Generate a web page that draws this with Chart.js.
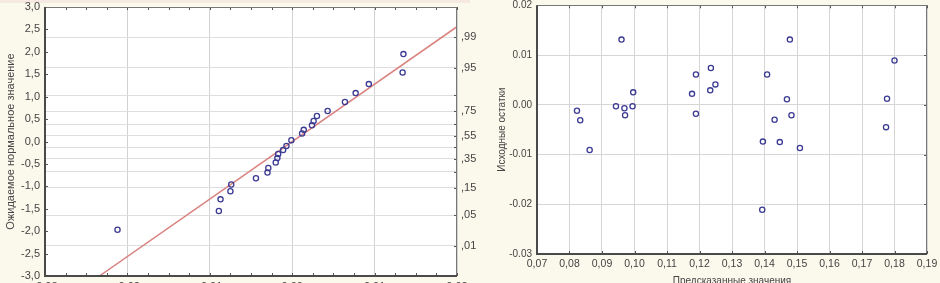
<!DOCTYPE html>
<html>
<head>
<meta charset="utf-8">
<script src="https://cdn.jsdelivr.net/npm/chart.js@4.4.1/dist/chart.umd.min.js"></script>
<style>
  html, body { margin: 0; padding: 0; width: 940px; height: 283px; overflow: hidden; background: #fbf8ec; }
  .box { position: absolute; top: 0; }
  #probBox { left: 0; width: 480px; height: 300px; }
  #residBox { left: 480px; width: 460px; height: 300px; }
  #topBand { position: absolute; left: 0; top: 0; width: 470px; height: 3px; background: #f6e9e1; }
</style>
</head>
<body>
<div id="topBand"></div>
<div class="box" id="probBox"><canvas id="probChart" width="480" height="300"></canvas></div>
<div class="box" id="residBox"><canvas id="residChart" width="460" height="300"></canvas></div>
<script>
// normal probability plot: residual vs expected normal value
const probResid = [-0.0212, -0.0089, -0.0087, -0.0075, -0.0074, -0.0044, -0.0030, -0.0029, -0.0020, -0.0018,
                   -0.0017, -0.0011, -0.0007, -0.0001, 0.0012, 0.0014, 0.0024, 0.0026, 0.0030, 0.0043,
                   0.0064, 0.0077, 0.0093, 0.0134, 0.0135];
const probExpected = [-1.97, -1.55, -1.29, -1.11, -0.96, -0.82, -0.69, -0.59, -0.47, -0.37,
                      -0.28, -0.19, -0.10, 0.03, 0.18, 0.26, 0.36, 0.46, 0.57, 0.68,
                      0.88, 1.08, 1.28, 1.54, 1.95];
const fitLineX = [-0.0234, 0.02];
const fitLineY = [-3.0, 2.56];
// right axis: probability levels
const probTickZ = [-2.326, -1.645, -1.036, -0.674, -0.385, -0.126, 0.126, 0.385, 0.674, 1.036, 1.645, 2.326];
const probTickLabels = [',01', ',05', ',15', '', ',35', '', ',55', '', ',75', '', ',95', ',99'];

// residuals vs predicted values
const predicted = [0.0823, 0.0833, 0.0862, 0.0943, 0.0960, 0.0969, 0.0971, 0.0994, 0.0996,
                   0.1177, 0.1189, 0.1189, 0.1233, 0.1235, 0.1249, 0.1393, 0.1395, 0.1408,
                   0.1431, 0.1447, 0.1469, 0.1478, 0.1483, 0.1509, 0.1774, 0.1777, 0.1800];
const residuals = [-0.0012, -0.0031, -0.0091, -0.0003, 0.0131, -0.0007, -0.0021, -0.0003, 0.0025,
                   0.0022, 0.0061, -0.0018, 0.0029, 0.0074, 0.0041, -0.0211, -0.0074, 0.0061,
                   -0.0030, -0.0075, 0.0011, 0.0131, -0.0021, -0.0087, -0.0045, 0.0012, 0.0089];

Chart.defaults.font.family = "'Liberation Sans', Arial, sans-serif";
Chart.defaults.font.size = 11;
Chart.defaults.color = '#444';

const markColor = '#3b3b94';
const lineColor = '#d9827f';

function comma(v, digits) {
  if (Math.abs(v) < 1e-9) v = 0;
  return v.toFixed(digits).replace('.', ',');
}

function stepValues(min, max, step) {
  const out = [];
  for (let k = 0; ; k++) {
    const v = min + k * step;
    if (v > max + step * 1e-6) break;
    out.push(v);
  }
  return out;
}

// white plot area, frame round it with small inner ticks
function framePlugin(marks) {
  return {
    id: 'frame',
    beforeDraw(chart) {
      const a = chart.chartArea;
      chart.ctx.save();
      chart.ctx.fillStyle = '#ffffff';
      chart.ctx.fillRect(a.left, a.top, a.right - a.left, a.bottom - a.top);
      chart.ctx.restore();
    },
    afterDatasetsDraw(chart) {
      const ctx = chart.ctx;
      const a = chart.chartArea;
      ctx.save();
      marks.forEach(m => {
        const scale = chart.scales[m.scale];
        const vals = m.values || stepValues(scale.min, scale.max, m.step);
        ctx.strokeStyle = '#555';
        ctx.lineWidth = 1;
        ctx.beginPath();
        vals.forEach(v => {
          const p = Math.round(scale.getPixelForValue(v)) + 0.5;
          if (m.side === 'left') { ctx.moveTo(a.left, p); ctx.lineTo(a.left + m.len, p); }
          if (m.side === 'right') { ctx.moveTo(a.right, p); ctx.lineTo(a.right - m.len, p); }
          if (m.side === 'top') { ctx.moveTo(p, a.top); ctx.lineTo(p, a.top + m.len); }
          if (m.side === 'bottom') { ctx.moveTo(p, a.bottom); ctx.lineTo(p, a.bottom - m.len); }
        });
        ctx.stroke();
      });
      ctx.strokeStyle = '#777';
      ctx.lineWidth = 1;
      ctx.beginPath();
      ctx.moveTo(a.left, Math.round(a.top) + 0.5);
      ctx.lineTo(a.right, Math.round(a.top) + 0.5);
      ctx.moveTo(Math.round(a.right) - 0.5, a.top);
      ctx.lineTo(Math.round(a.right) - 0.5, a.bottom);
      ctx.stroke();
      ctx.strokeStyle = '#4a4a4a';
      ctx.lineWidth = 2;
      ctx.beginPath();
      ctx.moveTo(Math.round(a.left), a.top);
      ctx.lineTo(Math.round(a.left), Math.round(a.bottom));
      ctx.lineTo(a.right, Math.round(a.bottom));
      ctx.stroke();
      ctx.restore();
    }
  };
}

function noPad(s) {
  s.paddingTop = 0; s.paddingBottom = 0; s.paddingLeft = 0; s.paddingRight = 0;
}

const probPoints = probResid.map((x, i) => ({ x: x, y: probExpected[i] }));
const fitPoints = fitLineX.map((x, i) => ({ x: x, y: fitLineY[i] }));

new Chart(document.getElementById('probChart'), {
  type: 'scatter',
  data: {
    datasets: [
      {
        data: fitPoints,
        showLine: true,
        borderColor: lineColor,
        borderWidth: 1.5,
        pointRadius: 0,
        order: 2
      },
      {
        data: probPoints,
        pointStyle: 'circle',
        pointRadius: 2.6,
        borderWidth: 1.3,
        borderColor: markColor,
        backgroundColor: 'rgba(0,0,0,0)',
        order: 1
      }
    ]
  },
  options: {
    responsive: false,
    animation: false,
    layout: { padding: { top: 7, left: 0, right: 0, bottom: 0 } },
    plugins: { legend: { display: false }, tooltip: { enabled: false } },
    scales: {
      x: {
        type: 'linear',
        min: -0.03,
        max: 0.02,
        ticks: { stepSize: 0.01, padding: 4, callback: v => comma(v, 2) },
        grid: { color: '#d2d2d2', drawTicks: false },
        border: { display: false },
        afterFit: s => { s.height = 24; noPad(s); }
      },
      y: {
        position: 'left',
        min: -3,
        max: 3,
        ticks: { stepSize: 0.5, padding: 5, callback: v => comma(v, 1) },
        grid: { display: false, drawTicks: false },
        border: { display: false },
        title: { display: true, text: 'Ожидаемое нормальное значение', padding: { top: 4, bottom: 0 }, font: { size: 11 } },
        afterFit: s => { s.width = 45; noPad(s); }
      },
      y2: {
        position: 'right',
        min: -3,
        max: 3,
        afterBuildTicks: s => { s.ticks = probTickZ.map(v => ({ value: v })); },
        ticks: { autoSkip: false, padding: 4, callback: (v, i) => probTickLabels[i] },
        grid: { color: '#dedede', drawTicks: false },
        border: { display: false },
        afterFit: s => { s.width = 23; noPad(s); }
      }
    }
  },
  plugins: [framePlugin([
    { scale: 'y', step: 0.5, side: 'left', len: 3 },
    { scale: 'x', step: 0.0025, side: 'top', len: 3 },
    { scale: 'x', step: 0.0025, side: 'bottom', len: 3 },
    { scale: 'y2', values: probTickZ, side: 'right', len: 3 }
  ])]
});

const residPoints = predicted.map((x, i) => ({ x: x, y: residuals[i] }));

new Chart(document.getElementById('residChart'), {
  type: 'scatter',
  data: {
    datasets: [{
      data: residPoints,
      pointStyle: 'circle',
      pointRadius: 2.6,
      borderWidth: 1.3,
      borderColor: markColor,
      backgroundColor: 'rgba(0,0,0,0)'
    }]
  },
  options: {
    responsive: false,
    animation: false,
    layout: { padding: { top: 4, left: 0, right: 13, bottom: 0 } },
    plugins: { legend: { display: false }, tooltip: { enabled: false } },
    scales: {
      x: {
        type: 'linear',
        min: 0.07,
        max: 0.19,
        ticks: { stepSize: 0.01, padding: 4, font: { size: 10.5 }, callback: v => comma(v, 2) },
        grid: { color: '#d6d6d6', drawTicks: false },
        border: { display: false },
        title: { display: true, text: 'Предсказанные значения', padding: { top: 0, bottom: 13 }, font: { size: 10 } },
        afterFit: s => { s.height = 46; noPad(s); }
      },
      y: {
        min: -0.03,
        max: 0.02,
        ticks: {
          stepSize: 0.01, padding: 5, font: { size: 10 },
          callback: v => (Math.abs(v) < 1e-9 ? 0 : v).toFixed(2)
        },
        grid: { color: '#d6d6d6', drawTicks: false },
        border: { display: false },
        title: { display: true, text: 'Исходные остатки', padding: { top: 16, bottom: 0 }, font: { size: 10 } },
        afterFit: s => { s.width = 57; noPad(s); }
      }
    }
  },
  plugins: [framePlugin([
    { scale: 'x', step: 0.01, side: 'top', len: 3 },
    { scale: 'x', step: 0.01, side: 'bottom', len: 3 },
    { scale: 'y', step: 0.01, side: 'right', len: 3 }
  ])]
});
</script>
</body>
</html>
